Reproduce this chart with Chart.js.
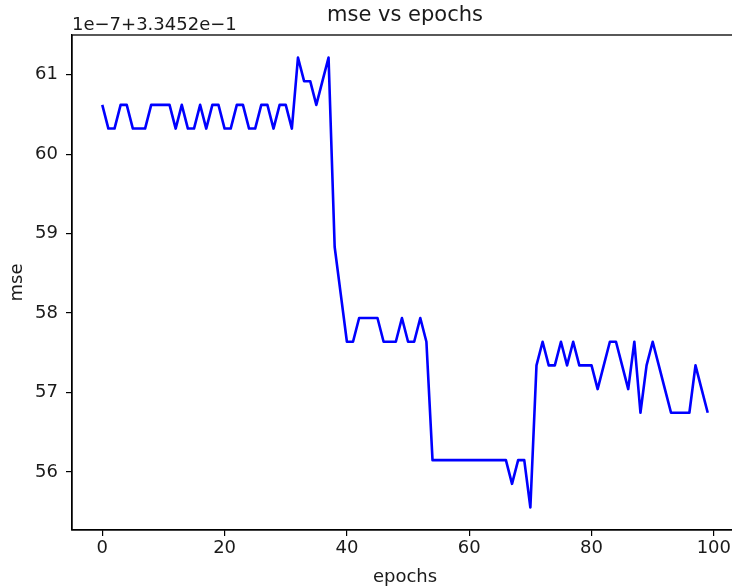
<!DOCTYPE html>
<html>
<head>
<meta charset="utf-8">
<script src="https://cdn.jsdelivr.net/npm/chart.js@4/dist/chart.umd.min.js"></script>
<style>
  html, body { margin: 0; padding: 0; background: #fff; overflow: hidden; }
  #wrap { width: 732px; height: 588px; overflow: hidden; position: relative; }
  #c { position: absolute; left: 0; top: 0; }
</style>
</head>
<body>
<div id="wrap"><canvas id="c" width="742" height="588"></canvas></div>
<script>
// MSE per epoch, in units of 1e-7 above 0.33452 (float32 steps)
const mse = [
  60.620, 60.322, 60.322, 60.620, 60.620, 60.322, 60.322, 60.322, 60.620, 60.620,
  60.620, 60.620, 60.322, 60.620, 60.322, 60.322, 60.620, 60.322, 60.620, 60.620,
  60.322, 60.322, 60.620, 60.620, 60.322, 60.322, 60.620, 60.620, 60.322, 60.620,
  60.620, 60.322, 61.216, 60.918, 60.918, 60.620, 60.918, 61.216, 58.832, 58.236,
  57.640, 57.640, 57.938, 57.938, 57.938, 57.938, 57.640, 57.640, 57.640, 57.938,
  57.640, 57.640, 57.938, 57.640, 56.150, 56.150, 56.150, 56.150, 56.150, 56.150,
  56.150, 56.150, 56.150, 56.150, 56.150, 56.150, 56.150, 55.852, 56.150, 56.150,
  55.554, 57.342, 57.640, 57.342, 57.342, 57.640, 57.342, 57.640, 57.342, 57.342,
  57.342, 57.044, 57.342, 57.640, 57.640, 57.342, 57.044, 57.640, 56.746, 57.342,
  57.640, 57.342, 57.044, 56.746, 56.746, 56.746, 56.746, 57.342, 57.044, 56.746
];
const epochs = mse.map((_, i) => i);
const xTicks = [0, 20, 40, 60, 80, 100];
const yTicks = [56, 57, 58, 59, 60, 61];
const titleText = 'mse vs epochs';
const offsetText = '1e\u22127+3.3452e\u22121';
const xLabel = 'epochs';
const yLabel = 'mse';

const FONT = "'DejaVu Sans', sans-serif";
const INK = '#1a1a1a';

// 5% margins around the data range on both axes
const xPad = (epochs[epochs.length - 1] - epochs[0]) * 0.05;
const yMin = Math.min(...mse), yMax = Math.max(...mse);
const yPad = (yMax - yMin) * 0.05;

const frame = {
  id: 'frame',
  afterDraw(chart) {
    const { ctx, chartArea: a } = chart;
    ctx.save();
    ctx.strokeStyle = '#000';
    ctx.lineWidth = 1.3;
    ctx.strokeRect(a.left, a.top, a.right - a.left, a.bottom - a.top);
    ctx.fillStyle = INK;
    ctx.font = '21px ' + FONT;
    ctx.textAlign = 'center';
    ctx.textBaseline = 'alphabetic';
    ctx.fillText(titleText, (a.left + a.right) / 2, 21);
    ctx.font = '18px ' + FONT;
    ctx.textAlign = 'left';
    ctx.fillText(offsetText, a.left, 30);
    ctx.restore();
  }
};

new Chart(document.getElementById('c'), {
  type: 'line',
  data: {
    datasets: [{
      data: epochs.map((e, i) => ({ x: e, y: mse[i] })),
      borderColor: '#0000ff',
      borderWidth: 2.6,
      borderJoinStyle: 'round',
      borderCapStyle: 'butt',
      pointRadius: 0,
      tension: 0,
      fill: false
    }]
  },
  options: {
    responsive: false,
    animation: false,
    layout: { padding: { top: 35, right: 4, left: 0, bottom: 0 } },
    plugins: { legend: { display: false }, tooltip: { enabled: false } },
    scales: {
      x: {
        type: 'linear',
        min: epochs[0] - xPad,
        max: epochs[epochs.length - 1] + xPad,
        afterBuildTicks: s => { s.ticks = xTicks.map(v => ({ value: v })); },
        afterFit: s => { s.height = 58; },
        grid: { drawOnChartArea: false, drawTicks: true, tickLength: 6, color: '#000', lineWidth: 1.2 },
        border: { display: true, color: '#000', width: 1.3 },
        ticks: { color: INK, font: { family: FONT, size: 18 }, padding: 2, maxRotation: 0 },
        title: { display: true, text: xLabel, color: INK, font: { family: FONT, size: 18 }, padding: { top: 0, bottom: 0 } }
      },
      y: {
        type: 'linear',
        min: yMin - yPad,
        max: yMax + yPad,
        afterBuildTicks: s => { s.ticks = yTicks.map(v => ({ value: v })); },
        afterFit: s => { s.width = 72; },
        grid: { drawOnChartArea: false, drawTicks: true, tickLength: 6, color: '#000', lineWidth: 1.2 },
        border: { display: true, color: '#000', width: 1.3 },
        ticks: { color: INK, font: { family: FONT, size: 18 }, padding: 8 },
        title: { display: true, text: yLabel, color: INK, font: { family: FONT, size: 18 }, padding: { top: 7, bottom: 7 } }
      }
    }
  },
  plugins: [frame]
});
</script>
</body>
</html>
